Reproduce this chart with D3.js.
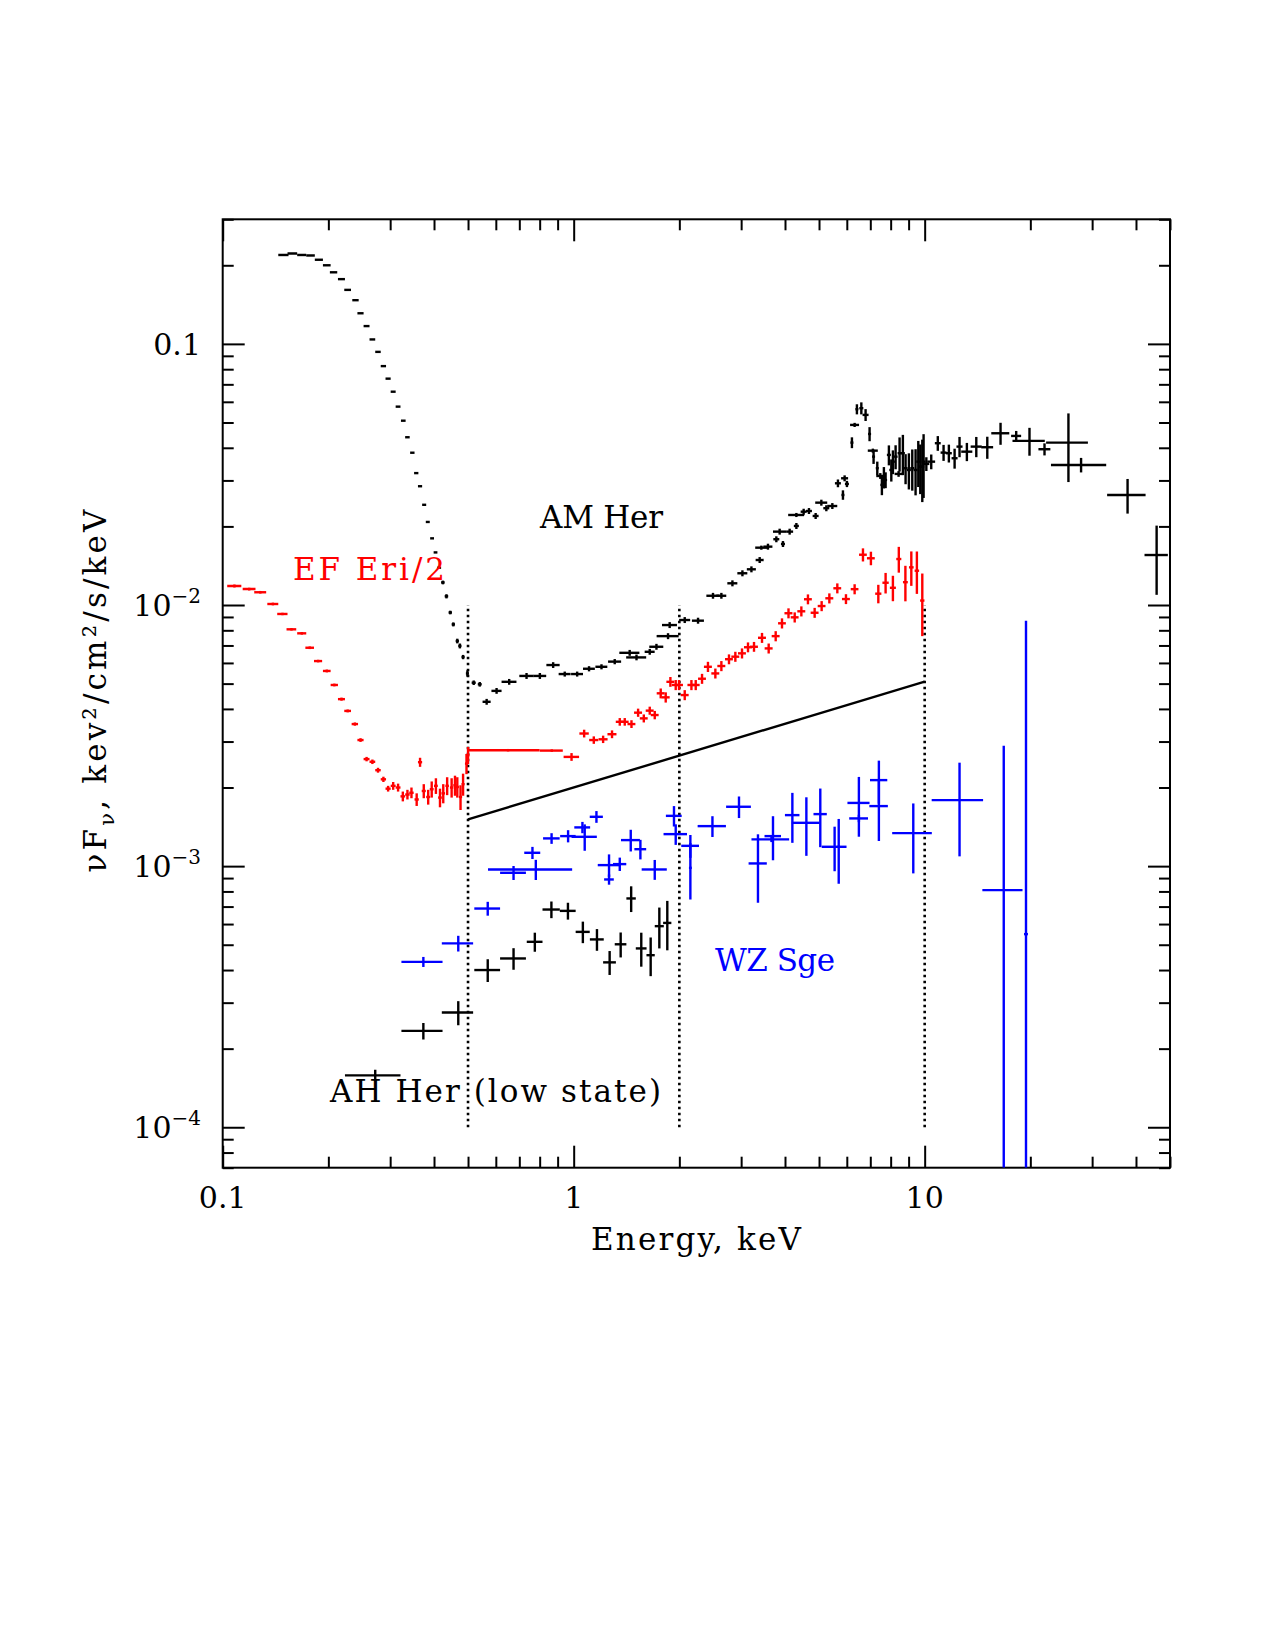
<!DOCTYPE html>
<html lang="en">
<head>
<meta charset="UTF-8">
<title>X-ray spectra</title>
<script src="https://cdnjs.cloudflare.com/ajax/libs/d3/7.8.5/d3.min.js"></script>
<style>
  body { margin: 0; background: #fff; }
  svg text { font-family: 'DejaVu Serif', serif; }
</style>
</head>
<body>
<svg id="chart" width="1275" height="1650"></svg>
<script>
// AM Her, high state (black): energy, half bin width, flux, flux error
const amE = [0.149,0.158,0.168,0.178,0.188,0.198,0.207,0.218,0.227,0.239,0.247,0.257,0.267,0.277,0.287,0.296,0.306,0.316,0.327,0.336,0.347,0.356,0.365,0.375,0.384,0.395,0.404,0.414,0.424,0.434,0.445,0.454,0.466,0.474,0.484,0.498,
  0.519,0.540,0.565,0.603,0.655,0.734,0.801,0.874,0.943,1.023,1.106,1.200,1.309,1.444,1.510,1.647,1.721,1.857,1.877,2.072,2.261,2.494,2.635,2.833,3.025,3.209,3.388,3.425,3.577,3.779,3.862,3.947,4.124,4.310,4.31,4.521,4.681,4.891,5.077,5.246,5.457,5.661,5.850,5.915,6.005,
  6.205,6.316,6.411,6.600,6.787,6.967,7.119,7.152,7.328,7.475,7.553,7.653,7.739,7.908,8.034,8.119,8.264,8.428,8.482,8.668,8.823,9.016,9.219,9.421,9.590,9.716,9.845,9.929,
  10.11,10.44,10.90,11.32,11.72,12.17,12.57,13.19,14.03,15.08,16.45,18.23,19.89,21.95,25.68,27.9,37.85,45.8];
const amEw = [0.005,0.005,0.005,0.005,0.005,0.005,0.005,0.005,0.005,0.005,0.005,0.005,0.005,0.005,0.005,0.005,0.005,0.005,0.005,0.005,0.005,0.005,0.005,0.005,0.005,0.005,0.005,0.005,0.005,0.005,0.005,0.005,0.005,0.005,0.005,0.005,
  0.007,0.007,0.015,0.02,0.032,0.034,0.034,0.038,0.037,0.04,0.043,0.047,0.056,0.095,0.099,0.054,0.079,0.134,0.092,0.075,0.089,0.106,0.086,0.093,0.099,0.095,0.089,0.135,0.106,0.074,0.165,0.052,0.095,0.071,0.226,0.089,0.092,0.096,0.2,0.103,0.179,0.111,0.057,0.136,0.079,
  0.061,0.186,0.063,0.087,0.134,0.069,0.234,0.07,0.072,0.196,0.074,0.075,0.076,0.104,0.105,0.106,0.108,0.22,0.111,0.114,0.116,0.118,0.121,0.124,0.126,0.127,0.129,0.13,
  0.2,0.27,0.21,0.22,0.23,0.24,0.25,0.48,0.51,0.59,0.97,0.6,2.1,0.86,3.5,5.0,4.75,3.5];
const amF = [0.219,0.222,0.219,0.218,0.210,0.200,0.188,0.177,0.161,0.147,0.131,0.117,0.104,0.0932,0.0822,0.0736,0.0656,0.0575,0.0508,0.0439,0.0383,0.0320,0.0285,0.0242,0.0208,0.0180,0.0159,0.0139,0.0122,0.0108,0.00936,0.00843,0.00728,0.00697,0.00632,0.00547,
  0.00504,0.00497,0.00426,0.00469,0.00508,0.00535,0.00535,0.00589,0.00544,0.00544,0.0057,0.0058,0.00607,0.00656,0.0063,0.00662,0.00692,0.0076,0.00838,0.00876,0.00871,0.01085,0.01085,0.01211,0.01323,0.0137,0.01487,0.01658,0.01673,0.01786,0.0191,0.01713,0.0191,0.02008,0.02212,0.02277,0.02291,0.02193,0.02466,0.02348,0.02394,0.02925,0.02639,0.03057,0.02908,
  0.04187,0.04894,0.05621,0.05671,0.05346,0.04519,0.03901,0.037,0.03341,0.0312,0.02884,0.03085,0.03012,0.03756,0.0329,0.0354,0.037,0.03177,0.03813,0.03813,0.03341,0.0329,0.03341,0.0329,0.0354,0.03388,0.03388,0.0354,
  0.0347,0.0354,0.04165,0.03834,0.03813,0.03648,0.04042,0.03866,0.04042,0.0402,0.04547,0.04441,0.0425,0.0395,0.04187,0.03439,0.02639,0.01554];
const amFe = [0,0,0,0,0,0,0,0,0,0,0,0,0,0,0,0,0,0,0,0,0,0,0,0,0,0,0,0,0.0002,0.0002,0.00015,0.00015,0.00015,0.00015,0.00012,0.00015,
  0.0001,0.0001,0.00011,0.00012,0.00013,0.00014,0.00014,0.00015,0.00012,0.00012,0.00013,0.00013,0.00014,0.00017,0.00016,0.00017,0.00018,0.0002,0.00022,0.00023,0.00023,0.00028,0.00028,0.00032,0.00035,0.00036,0.00039,0.0003,0.00044,0.00047,0.0005,0.00045,0.0005,0.00053,0.0004,0.0006,0.0006,0.00058,0.00065,0.00062,0.00063,0.001,0.0011,0.0008,0.0008,
  0.002,0.0009,0.0025,0.003,0.0028,0.0028,0.0007,0.0023,0.002,0.0008,0.0025,0.0029,0.0021,0.0033,0.0032,0.0037,0.0039,0.0008,0.0057,0.0067,0.0044,0.0052,0.006,0.0066,0.0071,0.0073,0.0091,0.0097,
  0.0021,0.0023,0.0027,0.0027,0.003,0.0032,0.0036,0.0031,0.0036,0.0039,0.0044,0.002,0.0052,0.0021,0.0123,0.0022,0.004,0.0046];

// EF Eri / 2 (red)
const efE = [0.108,0.119,0.128,0.139,0.148,0.157,0.168,0.177,0.187,0.198,0.208,0.218,0.227,0.238,0.247,0.257,0.267,0.277,0.287,0.296,0.306,0.316,0.326,0.336,0.345,0.357,0.365,0.374,0.385,0.394,0.405,0.416,0.425,0.436,0.449,0.459,0.466,0.476,0.484,0.495,0.500,
  0.65,0.866,0.986,1.071,1.141,1.213,1.286,1.353,1.398,1.461,1.526,1.584,1.647,1.702,1.770,1.829,1.886,1.953,1.996,2.072,2.165,2.227,2.321,2.413,2.533,2.635,2.770,2.888,3.017,3.138,3.264,3.440,3.594,3.763,3.922,4.093,4.263,4.453,4.650,4.859,5.087,5.351,5.638,5.967,6.316,6.671,7.028,7.378,7.739,8.119,8.44,8.812,9.161,9.502,9.845];
const efEw = [0.005,0.005,0.005,0.005,0.005,0.005,0.005,0.005,0.005,0.005,0.005,0.005,0.005,0.005,0.005,0.005,0.005,0.005,0.005,0.005,0.005,0.005,0.005,0.005,0.005,0.005,0.005,0.005,0.005,0.005,0.005,0.005,0.005,0.005,0.005,0.005,0.005,0.005,0.005,0.005,0.005,
  0.15,0.065,0.05,0.033,0.034,0.036,0.038,0.035,0.036,0.038,0.04,0.041,0.043,0.044,0.046,0.048,0.049,0.05,0.052,0.054,0.056,0.058,0.06,0.063,0.066,0.069,0.072,0.075,0.078,0.082,0.085,0.09,0.094,0.098,0.1,0.107,0.11,0.116,0.12,0.126,0.13,0.14,0.145,0.155,0.16,0.17,0.18,0.15,0.16,0.16,0.14,0.14,0.14,0.14,0.14];
const efF = [0.01183,0.01151,0.01119,0.01009,0.00924,0.00807,0.00779,0.00686,0.0061,0.00559,0.00494,0.00436,0.00393,0.0035,0.00304,0.00257,0.00251,0.00233,0.00215,0.00198,0.00203,0.002,0.00185,0.00188,0.00191,0.0018,0.0025,0.00194,0.00184,0.00197,0.00203,0.00183,0.0019,0.00203,0.002,0.00204,0.00201,0.00184,0.00206,0.00247,0.00266,
  0.00278,0.00277,0.00262,0.00322,0.00304,0.00306,0.0032,0.00357,0.00357,0.0035,0.00387,0.00368,0.00394,0.00379,0.00459,0.00443,0.00508,0.00494,0.00494,0.00452,0.00494,0.00494,0.00522,0.0058,0.00547,0.00584,0.0062,0.00634,0.00653,0.00689,0.00692,0.00749,0.00682,0.0076,0.00851,0.0093,0.00897,0.00946,0.01052,0.00934,0.00991,0.01061,0.01159,0.01054,0.0115,0.01558,0.0151,0.01105,0.01217,0.01164,0.015,0.01223,0.01394,0.01353,0.0104];
const efFe = [0.00015,0.00014,0.00013,0.00012,0.0001,0.00009,0.00009,0.00008,0.00007,0.00007,0.00006,0.00006,0.00005,0.00005,0.00005,0.00005,0.00005,0.00005,0.00005,0.00005,0.00007,0.00007,0.00008,0.00008,0.00009,0.0001,0.0001,0.00012,0.00012,0.00014,0.00014,0.00015,0.00016,0.00016,0.00017,0.00018,0.00018,0.0002,0.0002,0.00022,0.0002,
  0.00003,0.00003,0.00009,0.00011,0.0001,0.0001,0.00011,0.00012,0.00012,0.00012,0.00014,0.00013,0.00014,0.00014,0.0002,0.0002,0.00022,0.00022,0.00022,0.0002,0.00022,0.00022,0.00023,0.00026,0.00024,0.00026,0.00027,0.00028,0.00029,0.0003,0.0003,0.00033,0.0003,0.00034,0.00038,0.00041,0.0004,0.00042,0.00046,0.00041,0.00044,0.00047,0.00051,0.00046,0.00051,0.0009,0.0009,0.0009,0.0011,0.0013,0.0017,0.0019,0.0021,0.0025,0.0028];

// AM Her, low state (black crosses)
const lowE  = [0.272,0.373,0.469,0.569,0.674,0.775,0.864,0.963,1.062,1.165,1.266,1.361,1.458,1.558,1.657,1.754,1.848];
const lowEw = [0.049,0.05,0.048,0.048,0.057,0.04,0.049,0.05,0.049,0.053,0.053,0.052,0.045,0.055,0.045,0.052,0.05];
const lowF  = [1.58e-4,2.34e-4,2.75e-4,4.0e-4,4.43e-4,5.13e-4,6.82e-4,6.74e-4,5.6e-4,5.24e-4,4.28e-4,5.02e-4,7.52e-4,4.84e-4,4.56e-4,5.89e-4,6.06e-4];
const lowFe = [0.08e-4,0.17e-4,0.29e-4,0.4e-4,0.42e-4,0.43e-4,0.5e-4,0.5e-4,0.53e-4,0.5e-4,0.45e-4,0.55e-4,0.85e-4,0.72e-4,0.77e-4,1.05e-4,1.3e-4];

// WZ Sge (blue)
const wzE  = [0.373,0.469,0.569,0.674,0.78,0.763,0.865,0.964,1.075,1.059,1.161,1.261,1.261,1.353,1.454,1.549,1.702,1.931,1.953,2.15,2.15,2.485,2.958,3.35,3.697,3.66,4.198,4.602,5.042,5.539,5.69,6.495,6.495,7.405,7.405,9.28,12.57,16.8,19.44];
const wzEw = [0.05,0.048,0.048,0.057,0.21,0.04,0.047,0.049,0.089,0.055,0.05,0.09,0.04,0.059,0.09,0.06,0.14,0.1,0.15,0.125,0.02,0.23,0.24,0.2,0.2,0.45,0.2,0.42,0.22,0.45,0.05,0.47,0.4,0.42,0.45,1.2,2.1,2.2,0.25];
const wzF  = [4.3e-4,5.06e-4,6.88e-4,9.43e-4,9.71e-4,1.125e-3,1.277e-3,1.303e-3,1.295e-3,1.407e-3,1.545e-3,1.009e-3,8.89e-4,1.018e-3,1.258e-3,1.161e-3,9.71e-4,1.558e-3,1.326e-3,1.196e-3,9.85e-4,1.423e-3,1.688e-3,1.024e-3,1.303e-3,1.266e-3,1.568e-3,1.465e-3,1.582e-3,1.186e-3,1.186e-3,1.746e-3,1.523e-3,2.135e-3,1.698e-3,1.338e-3,1.79e-3,8.09e-4,5.49e-4];
const wzFe = [0.19e-4,0.35e-4,0.42e-4,0.58e-4,0.86e-4,0.06e-3,0.06e-3,0.07e-3,0.15e-3,0.07e-3,0.08e-3,0.1e-3,0.4e-4,0.06e-3,0.12e-3,0.1e-3,0.085e-3,0.14e-3,0.12e-3,0.12e-3,0.24e-3,0.13e-3,0.16e-3,0.3e-3,0.25e-3,0.03e-3,0.34e-3,0.37e-3,0.4e-3,0.23e-3,0.33e-3,0.45e-3,0.05e-3,0.4e-3,0.45e-3,0.4e-3,0.7e-3,2.08e-3,8.16e-3];

// power law and band edges
const plE = [0.5, 10];
const plF = [0.00151, 0.00509];
const bandE = [0.5, 2, 10];
const bandF = [1e-4, 0.01];

const xMajor = [0.1, 1, 10];
const xLabels = ['0.1', '1', '10'];
const yMajor = [0.1, 0.01, 0.001, 0.0001];
const yBase = ['0.1', '10', '10', '10'];
const yExp = ['', '\u22122', '\u22123', '\u22124'];

const L = 222.7, R = 1170, T = 219.3, B = 1167.7;
const x = d3.scaleLog().domain([0.1, 50]).range([L, R]);
const y = d3.scaleLog().domain([7e-5, 0.3]).range([B, T]);
const svg = d3.select('#chart');

svg.append('defs').append('clipPath').attr('id', 'clip')
  .append('rect').attr('x', L).attr('y', T).attr('width', R - L).attr('height', B - T);

// ticks on all four sides, pointing in
const xMinor = x.ticks().filter(v => !xMajor.some(m => Math.abs(m - v) < 1e-9));
const yMinor = y.ticks().filter(v => !yMajor.some(m => Math.abs(m - v) / m < 1e-6));

function ticks(axis, tr, values, size) {
  svg.append('g').attr('transform', tr)
    .call(axis.tickValues(values).tickSize(size).tickFormat(''))
    .call(g => g.select('.domain').remove())
    .selectAll('line').attr('stroke', '#000').attr('stroke-width', 2);
}
ticks(d3.axisBottom(x), `translate(0,${B})`, xMinor, -11);
ticks(d3.axisBottom(x), `translate(0,${B})`, xMajor, -22);
ticks(d3.axisTop(x), `translate(0,${T})`, xMinor, -11);
ticks(d3.axisTop(x), `translate(0,${T})`, xMajor, -22);
ticks(d3.axisLeft(y), `translate(${L},0)`, yMinor, -11);
ticks(d3.axisLeft(y), `translate(${L},0)`, yMajor, -22);
ticks(d3.axisRight(y), `translate(${R},0)`, yMinor, -11);
ticks(d3.axisRight(y), `translate(${R},0)`, yMajor, -22);

svg.append('rect').attr('x', L).attr('y', T).attr('width', R - L).attr('height', B - T)
  .attr('fill', 'none').attr('stroke', '#000').attr('stroke-width', 2);

// tick labels
svg.selectAll('text.xl').data(xMajor).join('text').attr('class', 'xl')
  .attr('x', d => x(d)).attr('y', 1208).attr('text-anchor', 'middle')
  .attr('font-size', 30).text((d, i) => xLabels[i]);

const yl = svg.selectAll('text.yl').data(yMajor).join('text').attr('class', 'yl')
  .attr('x', 201).attr('y', d => y(d) + 11).attr('text-anchor', 'end').attr('font-size', 30);
yl.append('tspan').text((d, i) => yBase[i]);
yl.append('tspan').attr('dy', -13).attr('font-size', 20).text((d, i) => yExp[i]);

// axis titles
svg.append('text').attr('x', 591).attr('y', 1250).attr('font-size', 31)
  .attr('textLength', 210).attr('lengthAdjust', 'spacing').text('Energy, keV');

const yt = svg.append('text').attr('transform', 'translate(106,691) rotate(-90)')
  .attr('text-anchor', 'middle').attr('font-size', 31)
  .attr('textLength', 363).attr('lengthAdjust', 'spacing');
yt.append('tspan').text('\u03bdF');
yt.append('tspan').attr('dy', 8).attr('font-size', 21).text('\u03bd');
yt.append('tspan').attr('dy', -8).text(', kev\u00b2/cm\u00b2/s/keV');

// data
const plot = svg.append('g').attr('clip-path', 'url(#clip)');

plot.selectAll('line.band').data(bandE).join('line').attr('class', 'band')
  .attr('x1', d => x(d)).attr('x2', d => x(d))
  .attr('y1', y(bandF[0])).attr('y2', y(bandF[1]))
  .attr('stroke', '#000').attr('stroke-width', 2.6).attr('stroke-dasharray', '2.5,3.5');

plot.append('path')
  .datum(plE.map((e, i) => [e, plF[i]]))
  .attr('d', d3.line().x(d => x(d[0])).y(d => y(d[1])))
  .attr('fill', 'none').attr('stroke', '#000').attr('stroke-width', 2.4);

function series(color, E, Ew, F, Fe) {
  const pts = E.map((e, i) => ({ e, ew: Ew[i], f: F[i], fe: Fe[i] }));
  const g = plot.append('g').attr('stroke', color).attr('stroke-width', 2.4);
  g.selectAll('line.h').data(pts).join('line').attr('class', 'h')
    .attr('x1', d => x(d.e - d.ew)).attr('x2', d => x(d.e + d.ew))
    .attr('y1', d => y(d.f)).attr('y2', d => y(d.f));
  g.selectAll('line.v').data(pts.filter(d => d.fe > 0)).join('line').attr('class', 'v')
    .attr('x1', d => x(d.e)).attr('x2', d => x(d.e))
    .attr('y1', d => d.f - d.fe > 7e-5 ? y(d.f - d.fe) : B)
    .attr('y2', d => y(d.f + d.fe));
}
series('#000', amE, amEw, amF, amFe);
series('#ff0000', efE, efEw, efF, efFe);
series('#000', lowE, lowEw, lowF, lowFe);
series('#0000ff', wzE, wzEw, wzF, wzFe);

// series labels
function label(txt, x0, yb, len, color) {
  svg.append('text').attr('x', x0).attr('y', yb).attr('font-size', 31)
    .attr('textLength', len).attr('lengthAdjust', 'spacing')
    .attr('fill', color).text(txt);
}
label('AM Her', 540, 528, 123, '#000');
label('EF Eri/2', 293, 580, 152, '#ff0000');
label('WZ Sge', 715, 971, 120, '#0000ff');
label('AH Her (low state)', 330, 1102, 331, '#000');
</script>
</body>
</html>
